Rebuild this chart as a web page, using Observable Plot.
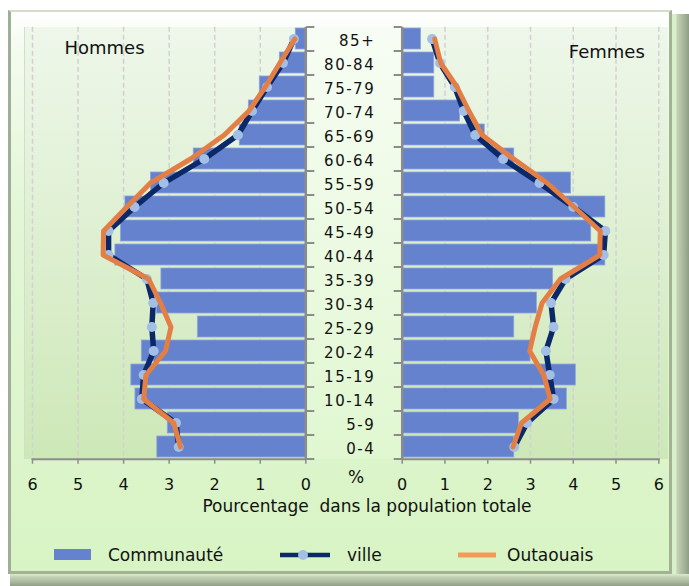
<!DOCTYPE html>
<html><head><meta charset="utf-8">
<script src="https://cdn.jsdelivr.net/npm/d3@7"></script>
<script src="https://cdn.jsdelivr.net/npm/@observablehq/plot@0.6"></script>
<style>
html,body{margin:0;padding:0;background:#fff;}
#chart{position:relative;width:689px;height:586px;overflow:hidden;font-family:"DejaVu Sans",sans-serif;color:#111;}
.abs{position:absolute;}
#bevR{left:672px;top:14px;width:17px;height:572px;background:linear-gradient(to right,#d8f0c8 0%,#d8f0c8 22%,#c3d0b6 30%,#aebca2 60%,#8f9d85 100%);}
#bevB{left:10px;top:574px;width:679px;height:12px;background:linear-gradient(to bottom,#d8f0c8 0%,#c3d0b6 25%,#aebca2 60%,#8f9d85 100%);}
#frame{left:8px;top:10px;width:664px;height:564px;box-sizing:border-box;
  border-left:3px solid #9fae96;border-top:2px solid #d6dbcc;border-right:3px solid #a2b293;border-bottom:3px solid #a2b293;
  background:linear-gradient(to bottom,#ffffff 0%,#f4fbef 6%,#e3f6d7 35%,#d8f4c4 100%);}
.panel{top:27px;height:432px;background:linear-gradient(to bottom,#eef7ea,#cde8b7);}
#pl{left:24px;width:283px;border-left:1px solid #d4dccb;}
#pr{left:401px;width:267px;}
#pc{left:307px;width:94px;top:27px;height:432px;background:linear-gradient(to bottom,#f7fdf4,#e0f7d0);}
svg.pp{position:absolute;left:0;top:0;}
g[aria-label="y-axis tick label"]{letter-spacing:1.5px;}
.t{position:absolute;font-size:17px;line-height:17px;white-space:pre;}
</style></head>
<body>
<div id="chart">
  <div id="bevR" class="abs"></div>
  <div id="bevB" class="abs"></div>
  <div id="frame" class="abs"></div>
  <div id="pl" class="abs panel"></div>
  <div id="pc" class="abs"></div>
  <div id="pr" class="abs panel"></div>
  <div class="t" style="left:356px;top:469px;transform:translateX(-50%);">%</div>
  <div class="t" style="left:367px;top:498px;transform:translateX(-50%);">Pourcentage  dans la population totale</div>
  <div class="abs" style="left:54px;top:549px;width:37px;height:11px;background:#6482cd;"></div>
  <div class="t" style="left:108px;top:547px;">Communauté</div>
  <svg class="abs" style="left:278px;top:545px;" width="54" height="20"><line x1="2" x2="52" y1="10" y2="10" stroke="#0b2868" stroke-width="4.5"/><circle cx="25" cy="10" r="5" fill="#a3bfe6"/></svg>
  <div class="t" style="left:347px;top:547px;">ville</div>
  <svg class="abs" style="left:456px;top:545px;" width="42" height="20"><line x1="2" x2="40" y1="10" y2="10" stroke="#f39a58" stroke-width="5"/></svg>
  <div class="t" style="left:507px;top:547px;">Outaouais</div>
</div>
<script>
const ages = ["85+","80-84","75-79","70-74","65-69","60-64","55-59","50-54","45-49","40-44","35-39","30-34","25-29","20-24","15-19","10-14","5-9","0-4"];
const communauteHommes = [0.22,0.57,1.01,1.25,1.45,2.46,3.40,3.96,4.06,4.18,3.17,3.27,2.37,3.60,3.83,3.74,3.03,3.26];
const villeHommes      = [0.26,0.50,0.85,1.18,1.49,2.23,3.12,3.76,4.33,4.33,3.49,3.35,3.38,3.34,3.56,3.60,2.85,2.79];
const outaouaisHommes  = [0.24,0.57,0.89,1.25,1.79,2.53,3.41,3.93,4.44,4.45,3.45,3.19,2.96,3.08,3.51,3.56,2.90,2.75];
const communauteFemmes = [0.44,0.75,0.75,1.35,1.93,2.62,3.95,4.75,4.42,4.75,3.53,3.15,2.62,3.00,4.06,3.85,2.73,2.62];
const villeFemmes      = [0.70,0.88,1.23,1.44,1.71,2.36,3.21,4.00,4.75,4.71,3.82,3.48,3.54,3.36,3.45,3.54,2.92,2.62];
const outaouaisFemmes  = [0.76,0.90,1.28,1.56,1.87,2.61,3.39,4.02,4.63,4.62,3.70,3.27,3.11,2.98,3.31,3.46,2.79,2.59];
const xTicks = [0,1,2,3,4,5,6];

const W = 689, H = 586, topY = 26.7, bottomY = 458.7;
const step = (bottomY - topY) / ages.length;
const axisGray = "#8c8c8c";

function rows(c, v, o) {
  return ages.map((a, i) => ({age: a, communaute: c[i], ville: v[i], outaouais: o[i]}));
}

function panel(data, left) {
  const anchor = left ? "right" : "left";
  const marks = [
    Plot.ruleX(xTicks.slice(1), {stroke: "#d2cfd9", strokeWidth: 1.5, strokeDasharray: "5,3"}),
    Plot.barX(data, {x: "communaute", y: "age", fill: "#6482cd", stroke: "#8fa6dc", strokeWidth: 0.8}),
    Plot.line(data, {x: "ville", y: "age", stroke: "#0b2868", strokeWidth: 5.5, strokeLinejoin: "round"}),
    Plot.dot(data, {x: "ville", y: "age", r: 5, fill: "#a3bfe6"}),
    Plot.line(data, {x: "outaouais", y: "age", stroke: "#e37f45", strokeWidth: 5}),
    Plot.ruleX([0], {stroke: axisGray, strokeWidth: 2.5}),
    Plot.frame({anchor: "bottom", stroke: axisGray, strokeWidth: 2}),
    Plot.axisX({ticks: xTicks, tickFormat: "d", tickSize: 5, tickPadding: 14, stroke: axisGray, strokeWidth: 1.5, fill: "#111", fontSize: 16, label: null}),
    Plot.axisY({anchor, tickSize: 8, tickFormat: () => "", stroke: axisGray, strokeWidth: 2, dy: -step / 2, label: null}),
    Plot.axisY({anchor, ticks: [ages[ages.length - 1]], tickSize: 8, tickFormat: () => "", stroke: axisGray, strokeWidth: 2, dy: step / 2, label: null}),
    Plot.text([left ? "Hommes" : "Femmes"], {
      frameAnchor: left ? "top-left" : "top-right", textAnchor: left ? "start" : "end", lineAnchor: "middle",
      dx: left ? 32 : -14, dy: left ? 21 : 25, fontSize: 18, fill: "#111"
    })
  ];
  if (!left) marks.push(Plot.axisY({anchor: "left", tickSize: 0, tickPadding: 27, fontSize: 15, fill: "#111", dy: 2.5, label: null}));
  const svg = Plot.plot({
    width: W, height: H,
    marginTop: topY, marginBottom: H - bottomY,
    marginLeft: left ? 32 : 401.7,
    marginRight: left ? W - 305.3 : W - 658.3,
    style: {background: "transparent", fontFamily: "DejaVu Sans", fontSize: "16px", color: "#111", maxWidth: "none", overflow: "visible"},
    x: {domain: left ? [6, 0] : [0, 6], label: null},
    y: {type: "band", domain: ages, paddingInner: 0.12, paddingOuter: 0.06, label: null},
    marks
  });
  svg.classList.add("pp");
  return svg;
}

const chart = document.getElementById("chart");
chart.appendChild(panel(rows(communauteHommes, villeHommes, outaouaisHommes), true));
chart.appendChild(panel(rows(communauteFemmes, villeFemmes, outaouaisFemmes), false));
</script>
</body></html>
